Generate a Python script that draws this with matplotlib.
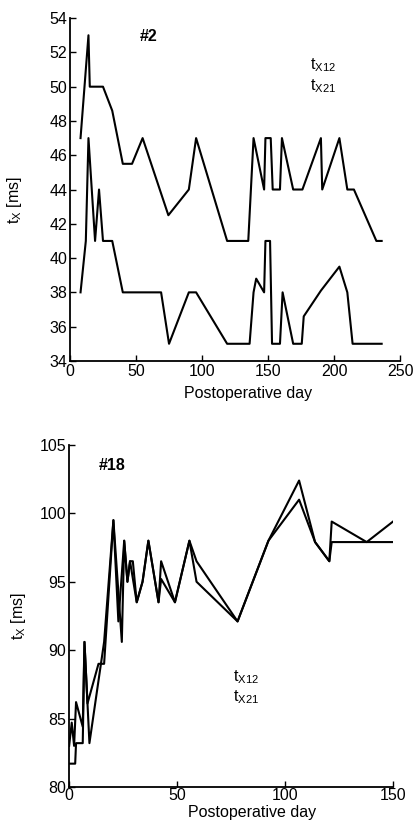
import matplotlib
matplotlib.use('Agg')
import matplotlib.pyplot as plt

plt.rcParams['font.family'] = ['Liberation Sans', 'DejaVu Sans']
plt.rcParams['mathtext.fontset'] = 'custom'
plt.rcParams['mathtext.rm'] = 'Liberation Sans'
plt.rcParams['mathtext.it'] = 'Liberation Sans'

# Patient #2
p2_day_12 = [8, 14, 15, 25, 32, 40, 47, 55, 74.5, 90, 95.5, 119, 135, 139, 147, 148, 152,
             153.5, 159, 160.5, 169, 176, 190, 191, 204, 210, 215, 232, 236]
p2_tx12 = [47, 53, 50, 50, 48.6, 45.5, 45.5, 47, 42.5, 44, 47, 41, 41, 47, 44, 47, 47,
           44, 44, 47, 44, 44, 47, 44, 47, 44, 44, 41, 41]
p2_day_21 = [8, 12, 14, 19, 22, 25, 32, 40, 69, 75, 90, 95.5, 119, 136, 139, 141, 147, 148,
             151.5, 153, 159, 161, 169, 175.5, 177, 190, 204, 210, 214, 236]
p2_tx21 = [38, 41, 47, 41, 44, 41, 41, 38, 38, 35, 38, 38, 35, 35, 38, 38.8, 38, 41,
           41, 35, 35, 38, 35, 35, 36.6, 38.1, 39.5, 38, 35, 35]

# Patient #18
p18_day_12 = [0, 1.2, 2.3, 3.2, 6.3, 7.1, 8.5, 13.6, 16.2, 20.5, 22.8, 25.5, 27, 28.2, 29.5,
              31.3, 34, 36.7, 41.4, 42.6, 49, 55.7, 59, 78, 92.3, 106.5, 113.9, 120.5,
              121.6, 137.8, 150]
p18_tx12 = [83, 84.7, 83, 86.2, 84.4, 90.6, 86.1, 89, 89, 99.5, 92.1, 98, 95, 96.5, 96.5,
            93.5, 95, 98, 93.5, 96.5, 93.5, 98, 96.5, 92.1, 98, 102.4, 97.9, 96.5,
            99.4, 97.9, 99.4]
p18_day_21 = [0, 2.8, 3.2, 6.3, 7.1, 9.4, 16.2, 20.5, 24.4, 25.5, 27, 28.2, 31.3, 34, 36.7,
              41.4, 42.6, 49, 55.7, 59, 78, 92.3, 106.5, 113.9, 120.5, 121.6, 150]
p18_tx21 = [81.7, 81.7, 83.2, 83.2, 90.6, 83.2, 90.6, 99.5, 90.6, 98, 95, 96.5, 93.5, 95, 98,
            93.5, 95.2, 93.5, 98, 95, 92.1, 98, 101, 97.9, 96.5, 97.9, 97.9]

fig = plt.figure(figsize=(4.19, 8.24), dpi=100)
ax1 = fig.add_axes([0.167, 0.562, 0.788, 0.416])
ax2 = fig.add_axes([0.165, 0.045, 0.773, 0.415])

lw = 1.5
ax1.plot(p2_day_12, p2_tx12, color='black', lw=lw)
ax1.plot(p2_day_21, p2_tx21, color='black', lw=lw)
ax2.plot(p18_day_12, p18_tx12, color='black', lw=lw)
ax2.plot(p18_day_21, p18_tx21, color='black', lw=lw)

ax1.set_xlim(0, 250)
ax1.set_ylim(34, 54)
ax1.set_xticks(range(0, 251, 50))
ax1.set_yticks(range(34, 55, 2))
ax2.set_xlim(0, 150)
ax2.set_ylim(80, 105)
ax2.set_xticks(range(0, 151, 50))
ax2.set_yticks(range(80, 106, 5))

fs = 11.5
for ax in (ax1, ax2):
    ax.spines['top'].set_visible(False)
    ax.spines['right'].set_visible(False)
    ax.spines['left'].set_linewidth(1.3)
    ax.spines['bottom'].set_linewidth(1.3)
    ax.tick_params(direction='in', length=4, width=1, labelsize=fs, pad=2)
    ax.set_xlabel('Postoperative day', fontsize=fs)
    ax.set_ylabel(r'$\mathregular{t_X}$ [ms]', fontsize=fs)
ax2.tick_params(axis='x', pad=1)

ax1.xaxis.set_label_coords(0.54, -0.072)
ax1.yaxis.set_label_coords(-0.14, 0.47)
ax2.xaxis.set_label_coords(0.565, -0.053)
ax2.yaxis.set_label_coords(-0.127, 0.50)

ax1.text(0.212, 0.945, '#2', transform=ax1.transAxes, fontsize=fs, fontweight='bold', va='center')
ax1.text(0.727, 0.85, r'$\mathregular{t_{X12}}$', transform=ax1.transAxes, fontsize=fs)
ax1.text(0.727, 0.79, r'$\mathregular{t_{X21}}$', transform=ax1.transAxes, fontsize=fs)

ax2.text(0.09, 0.94, '#18', transform=ax2.transAxes, fontsize=fs, fontweight='bold', va='center')
ax2.text(0.505, 0.31, r'$\mathregular{t_{X12}}$', transform=ax2.transAxes, fontsize=fs)
ax2.text(0.505, 0.25, r'$\mathregular{t_{X21}}$', transform=ax2.transAxes, fontsize=fs)

fig.savefig('out.png', dpi=100)
